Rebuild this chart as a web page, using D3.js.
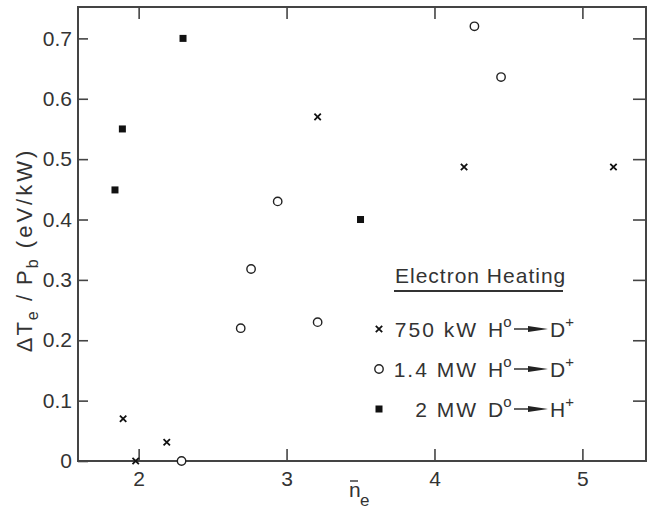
<!DOCTYPE html>
<html>
<head>
<meta charset="utf-8">
<script src="https://cdn.jsdelivr.net/npm/d3@7"></script>
<style>
  body { margin: 0; background: #fff; }
  text { font-family: "Liberation Sans", Arial, sans-serif; fill: #333; }
</style>
</head>
<body>
<div id="viz"></div>
<script>
// 750 kW H0 -> D+
var crossX = [1.895, 1.98, 2.19, 3.21, 4.2, 5.21];
var crossY = [0.07, 0.0, 0.031, 0.57, 0.487, 0.487];
// 1.4 MW H0 -> D+
var circleX = [2.29, 2.69, 2.76, 2.94, 3.21, 4.27, 4.45];
var circleY = [0.0, 0.22, 0.318, 0.43, 0.23, 0.72, 0.636];
// 2 MW D0 -> H+
var squareX = [1.84, 1.89, 2.30, 3.50];
var squareY = [0.449, 0.55, 0.70, 0.40];

var xTicks = [2, 3, 4, 5];
var yTicks = [0, 0.1, 0.2, 0.3, 0.4, 0.5, 0.6, 0.7];

var legendPower = ["750 kW", "1.4 MW", "2 MW"];
var legendFrom = ["H", "H", "D"];
var legendTo = ["D", "D", "H"];
var legendType = ["cross", "circle", "square"];

var width = 652,
    height = 510;
var plotLeft = 78, plotRight = 646, plotTop = 7, plotBottom = 461;

var svg = d3.select("#viz")
  .append("svg")
    .attr("width", width)
    .attr("height", height);

var x = d3.scaleLinear().domain([1.59, 5.43]).range([plotLeft, plotRight]);
var y = d3.scaleLinear().domain([0, 0.752]).range([plotBottom, plotTop]);

var axisColor = "#444";

// frame
svg.append("rect")
    .attr("x", plotLeft)
    .attr("y", plotTop)
    .attr("width", plotRight - plotLeft)
    .attr("height", plotBottom - plotTop)
    .style("fill", "none")
    .style("stroke", axisColor)
    .style("stroke-width", 2);

var fmt = function(d) { return d === 0 ? "0" : d3.format(".1f")(d); };

var gx = svg.append("g")
    .attr("transform", "translate(0," + plotBottom + ")")
    .call(d3.axisBottom(x).tickValues(xTicks).tickSizeInner(-12).tickSizeOuter(0).tickPadding(10).tickFormat(d3.format("d")));
var gy = svg.append("g")
    .attr("transform", "translate(" + plotLeft + ",0)")
    .call(d3.axisLeft(y).tickValues(yTicks).tickSizeInner(-10).tickSizeOuter(0).tickPadding(6).tickFormat(fmt));
var gt = svg.append("g")
    .attr("transform", "translate(0," + plotTop + ")")
    .call(d3.axisTop(x).tickValues(xTicks).tickSizeInner(-12).tickSizeOuter(0).tickFormat(""));
var gr = svg.append("g")
    .attr("transform", "translate(" + plotRight + ",0)")
    .call(d3.axisRight(y).tickValues(yTicks.slice(1)).tickSizeInner(-13).tickSizeOuter(0).tickFormat(""));

[gx, gy, gt, gr].forEach(function(g) {
  g.select(".domain").remove();
  g.selectAll(".tick line").style("stroke", axisColor).style("stroke-width", 1.6);
  g.selectAll(".tick text").style("font-size", "21px").style("font-family", "Liberation Sans, Arial, sans-serif").attr("fill", "#333");
});

// markers
function crossPath(cx, cy, s) {
  return "M" + (cx - s) + "," + (cy - s) + "L" + (cx + s) + "," + (cy + s) +
         "M" + (cx - s) + "," + (cy + s) + "L" + (cx + s) + "," + (cy - s);
}

function drawMarker(g, type, cx, cy) {
  if (type === "cross") {
    g.append("path").attr("d", crossPath(cx, cy, 3.2))
      .style("stroke", "#111").style("stroke-width", 1.8).style("fill", "none");
  } else if (type === "circle") {
    g.append("circle").attr("cx", cx).attr("cy", cy).attr("r", 4.2)
      .style("stroke", "#222").style("stroke-width", 1.4).style("fill", "#fff");
  } else {
    g.append("rect").attr("x", cx - 3.5).attr("y", cy - 3.5).attr("width", 7).attr("height", 7)
      .style("fill", "#111");
  }
}

var pts = svg.append("g");
crossX.forEach(function(d, i) { drawMarker(pts, "cross", x(d), y(crossY[i])); });
circleX.forEach(function(d, i) { drawMarker(pts, "circle", x(d), y(circleY[i])); });
squareX.forEach(function(d, i) { drawMarker(pts, "square", x(d), y(squareY[i])); });

// axis labels
var xl = svg.append("g");
xl.append("text").attr("x", 349).attr("y", 497).style("font-size", "21px").text("n");
xl.append("line").attr("x1", 350).attr("x2", 358).attr("y1", 481).attr("y2", 481)
  .style("stroke", "#333").style("stroke-width", 1.4);
xl.append("text").attr("x", 360).attr("y", 506).style("font-size", "17px").text("e");

var yl = svg.append("text")
    .attr("transform", "translate(32,250) rotate(-90)")
    .attr("text-anchor", "middle")
    .style("font-size", "22px")
    .style("letter-spacing", "2px");
yl.append("tspan").text("\u0394T");
yl.append("tspan").attr("dy", 6).style("font-size", "16px").text("e");
yl.append("tspan").attr("dy", -6).text(" / P");
yl.append("tspan").attr("dy", 6).style("font-size", "16px").text("b");
yl.append("tspan").attr("dy", -6).style("letter-spacing", "3px").text(" (eV/kW)");

// legend
var lg = svg.append("g");
lg.append("text").attr("x", 395).attr("y", 283).style("font-size", "21px")
  .style("letter-spacing", "1px").text("Electron Heating");
lg.append("line").attr("x1", 394).attr("x2", 563).attr("y1", 291).attr("y2", 291)
  .style("stroke", "#333").style("stroke-width", 1.8);

var rowY = [337, 377, 417];
legendPower.forEach(function(p, i) {
  var by = rowY[i];
  drawMarker(lg, legendType[i], 379, by - 8);
  lg.append("text").attr("x", 478).attr("y", by).attr("text-anchor", "end")
    .style("font-size", "21px").style("letter-spacing", "2px").text(p);
  var t1 = lg.append("text").attr("x", 488).attr("y", by).style("font-size", "21px");
  t1.append("tspan").text(legendFrom[i]);
  t1.append("tspan").attr("dy", -10).style("font-size", "15px").text("o");
  // arrow
  lg.append("line").attr("x1", 514).attr("x2", 536).attr("y1", by - 8).attr("y2", by - 8)
    .style("stroke", "#222").style("stroke-width", 1.4);
  lg.append("path").attr("d", "M528," + (by - 11) + "L548," + (by - 8) + "L528," + (by - 5) + "Z")
    .style("fill", "#222");
  var t2 = lg.append("text").attr("x", 550).attr("y", by).style("font-size", "21px");
  t2.append("tspan").text(legendTo[i]);
  t2.append("tspan").attr("dy", -10).style("font-size", "15px").text("+");
});
</script>
</body>
</html>
